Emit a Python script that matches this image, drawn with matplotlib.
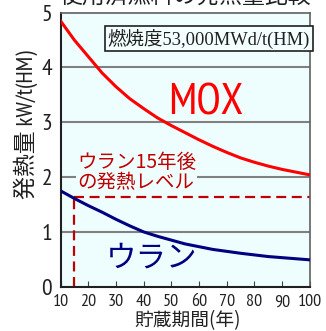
import matplotlib

matplotlib.use("Agg")

import matplotlib.pyplot as plt

narrow = ["Liberation Sans Narrow", "Arial Narrow", "PT Sans Narrow",
          "Roboto Condensed", "Archivo Narrow", "Liberation Sans",
          "Noto Sans CJK JP"]
plt.rcParams["font.family"] = narrow

# 貯蔵期間(年) と 発熱量 kW/t(HM)
years = [10, 15, 20, 25, 30, 35, 40, 45, 50, 55, 60, 65, 70, 75, 80, 85, 90,
         95, 100]
mox_heat = [4.85, 4.5, 4.2, 3.9, 3.65, 3.43, 3.25, 3.08, 2.94, 2.81, 2.68,
            2.56, 2.45, 2.35, 2.27, 2.2, 2.14, 2.09, 2.04]
uranium_heat = [1.75, 1.61, 1.48, 1.36, 1.23, 1.11, 1.0, 0.92, 0.85, 0.78,
                0.73, 0.68, 0.645, 0.61, 0.58, 0.55, 0.53, 0.51, 0.49]

# ウラン15年後の発熱レベル
level_year = 15
level_heat = 1.63

x_ticks = [10, 20, 30, 40, 50, 60, 70, 80, 90, 100]
y_ticks = [0, 1, 2, 3, 4, 5]

fig = plt.figure(figsize=(3.26, 3.31), dpi=100)
ax = fig.add_axes([0.1856, 0.1338, 0.765, 0.828])
ax.set_facecolor("#eefeff")

for y in y_ticks[1:-1]:
    ax.axhline(y, color="#808080", linewidth=1.5, zorder=1)

ax.plot(years, mox_heat, color="#ff0000", linewidth=2.2, zorder=3)
ax.plot(years, uranium_heat, color="#000080", linewidth=2.2, zorder=3)

ax.plot([level_year, 100], [level_heat, level_heat], color="#c00000",
        linewidth=1.6, dashes=(4.5, 2.5), zorder=2)
ax.plot([level_year, level_year], [0, level_heat], color="#c00000",
        linewidth=1.6, dashes=(4.5, 2.5), zorder=2)

ax.set_xlim(10, 100)
ax.set_ylim(0, 5)
ax.set_xticks(x_ticks)
ax.set_yticks(y_ticks)
ax.tick_params(axis="x", direction="in", length=4, pad=5.5, labelsize=13,
               color="#404040", labelcolor="#202020")
ax.tick_params(axis="y", length=0, pad=6, labelsize=17, labelcolor="#202020")

for side in ["left", "bottom"]:
    ax.spines[side].set_color("#202020")
    ax.spines[side].set_linewidth(1.5)
for side in ["right", "top"]:
    ax.spines[side].set_color("#606060")
    ax.spines[side].set_linewidth(1.2)

ax.text(62.5, 3.34, "MOX", color="#ff0000", fontsize=32, ha="center",
        va="center")
ax.text(43, 0.52, "ウラン", color="#000080", fontsize=22,
        family="Noto Sans CJK JP", ha="center", va="center")
ax.text(16.0, 2.08, "ウラン15年後\nの発熱レベル", color="#c00000", fontsize=14,
        family="Noto Sans CJK JP", ha="left", va="center", linespacing=0.95,
        bbox=dict(facecolor="#eefeff", edgecolor="none", pad=0.5), zorder=4)
ax.text(63.5, 4.53, "燃焼度53,000MWd/t(HM)", color="#202020", fontsize=13.3,
        family=["Liberation Serif", "Noto Sans CJK JP"], ha="center",
        va="center",
        bbox=dict(facecolor="#f4ffff", edgecolor="#202020", linewidth=1.2,
                  boxstyle="square,pad=0.15"), zorder=4)

fig.text(0.078, 0.622, "発熱量 kW/t(HM)", rotation=90, fontsize=16.5,
         color="#202020", ha="center", va="center")
fig.text(0.577, 0.031, "貯蔵期間(年)", fontsize=13.5, family="Noto Sans CJK JP",
         color="#202020", ha="center", va="center")
fig.text(0.567, 1.012, "使用済燃料の発熱量比較", fontsize=16.5,
         family="Noto Sans CJK JP", color="#202020", ha="center", va="center")

fig.savefig("out.png", dpi=100)
